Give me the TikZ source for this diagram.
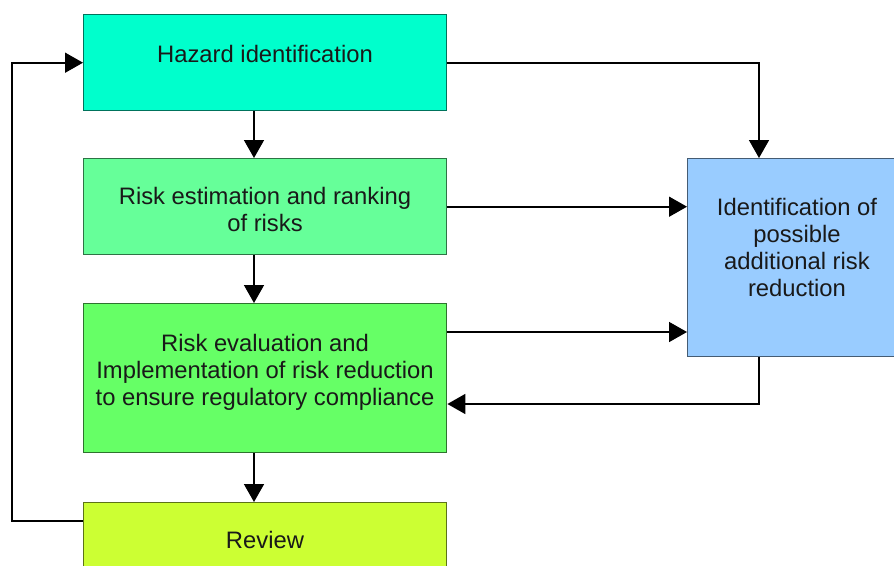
\documentclass[tikz,border=0pt]{standalone}
\usepackage{fontspec}
\setmainfont{Liberation Sans}
\usetikzlibrary{arrows.meta}
\definecolor{cHz}{RGB}{0,255,204}
\definecolor{cRe}{RGB}{102,255,153}
\definecolor{cRw}{RGB}{102,255,102}
\definecolor{cRv}{RGB}{204,255,51}
\definecolor{cId}{RGB}{153,204,255}
\definecolor{cTxt}{RGB}{25,25,25}
\tikzset{
  box/.style={rectangle, anchor=north west, inner sep=0pt, line width=1.4pt, minimum width=363pt},
  lbl/.style={anchor=north, inner sep=0pt, align=center, text=cTxt, font=\fontsize{23.8}{27}\selectfont},
  conn/.style={line width=1.6pt, draw=black, -{Triangle[length=18pt,width=20pt]}},
  plain/.style={line width=1.6pt, draw=black},
}
\begin{document}
\begin{tikzpicture}[x=1pt,y=-1pt]
\useasboundingbox (0,0) rectangle (894,565);
\clip (0,0) rectangle (894,565);
% boxes
\node[box, fill=cHz, draw=cHz!45!black, minimum height=96pt] (hz) at (83,14) {};
\node[box, fill=cRe, draw=cRe!45!black, minimum height=96pt] (re) at (83,158) {};
\node[box, fill=cRw, draw=cRw!45!black, minimum height=149pt] (rw) at (83,303) {};
\node[box, fill=cRv, draw=cRv!45!black, minimum height=100pt] (rv) at (83,502) {};
\node[box, fill=cId, draw=cId!45!black, minimum width=220pt, minimum height=198pt] (id) at (687,158) {};
% texts
\node[lbl] (hzt) at (265,44.7) {Hazard identification};
\node[lbl] (ret) at (265,186.7) {Risk estimation and ranking\\of risks};
\node[lbl] (rwt) at (265,333.7) {Risk evaluation and\\Implementation of risk reduction\\to ensure regulatory compliance};
\node[lbl] (rvt) at (265,530.7) {Review};
\node[lbl] (idt) at (797,197.7) {Identification of\\possible\\additional risk\\reduction};
% helper coordinates
\coordinate (cx) at (254,0);
\coordinate (tx) at (759,0);
\coordinate (lx) at (12,0);
\coordinate (y1) at (0,332);
\coordinate (y2) at (0,404);
\coordinate (y3) at (0,521);
% connectors
\draw[conn] (hz.south -| cx) -- (re.north -| cx);
\draw[conn] (re.south -| cx) -- (rw.north -| cx);
\draw[conn] (rw.south -| cx) -- (rv.north -| cx);
\draw[conn] (hz.east) -| (id.north -| tx);
\draw[conn] (re.east) -- (re.east -| id.west);
\draw[conn] (rw.east |- y1) -- (id.west |- y1);
\draw[conn] (id.south -| tx) |- (rw.east |- y2);
\draw[conn] (rv.west |- y3) -- (lx |- y3) -- (lx |- hz.west) -- (hz.west);
\end{tikzpicture}
\end{document}
